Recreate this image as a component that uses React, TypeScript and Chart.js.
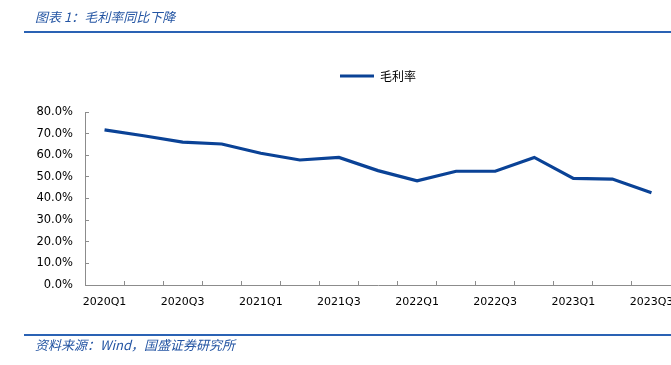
import React, { useEffect, useRef } from 'react';
import { Chart, registerables } from 'chart.js';

Chart.register(...registerables);

const categories = [
  '2020Q1', '2020Q2', '2020Q3', '2020Q4',
  '2021Q1', '2021Q2', '2021Q3', '2021Q4',
  '2022Q1', '2022Q2', '2022Q3', '2022Q4',
  '2023Q1', '2023Q2', '2023Q3',
];
const grossMargin = [71.7, 69.0, 66.1, 65.2, 60.9, 57.8, 59.0, 52.9, 48.2, 52.6, 52.6, 59.0, 49.3, 49.0, 42.7];
const seriesName = '毛利率';
const yMin = 0;
const yMax = 80;
const yStep = 10;
const titleText = '图表 1：毛利率同比下降';
const sourceText = '资料来源：Wind，国盛证券研究所';

const LINE_COLOR = '#0A4296';
const RULE_COLOR = '#2A62B4';
const TEXT_BLUE = '#2455A3';
const AXIS_COLOR = '#8c8c8c';

export default function App() {
  const ref = useRef<HTMLCanvasElement | null>(null);

  useEffect(() => {
    if (!ref.current) return;
    const chart = new Chart(ref.current, {
      type: 'line',
      data: {
        labels: categories,
        datasets: [
          {
            label: seriesName,
            data: grossMargin,
            borderColor: LINE_COLOR,
            backgroundColor: LINE_COLOR,
            borderWidth: 3.2,
            pointRadius: 0,
            pointHoverRadius: 0,
            tension: 0,
            fill: false,
          },
        ],
      },
      options: {
        responsive: false,
        animation: false,
        layout: { padding: { top: 60, left: 0, right: 0, bottom: 0 } },
        plugins: {
          tooltip: { enabled: false },
          legend: {
            display: true,
            position: 'top',
            fullSize: false,
            labels: {
              usePointStyle: true,
              pointStyle: 'line',
              pointStyleWidth: 34,
              boxHeight: 12,
              padding: 10,
              color: '#000',
              font: { family: "'Noto Sans CJK SC', sans-serif", size: 12 },
            },
          },
        },
        scales: {
          x: {
            type: 'category',
            offset: true,
            grid: {
              display: true,
              offset: true,
              drawOnChartArea: false,
              drawTicks: true,
              tickLength: -4,
              color: AXIS_COLOR,
            },
            border: { display: true, color: AXIS_COLOR, width: 1 },
            ticks: {
              autoSkip: false,
              maxRotation: 0,
              minRotation: 0,
              padding: 15,
              color: '#000',
              font: { family: "'DejaVu Sans', sans-serif", size: 11 },
              callback: (_v: any, i: number) => (i % 2 === 0 ? categories[i] : ''),
            },
            afterFit: (s: any) => {
              s.height = 80;
              s.paddingLeft = 0;
              s.paddingRight = 0;
            },
          },
          xGap: {
            type: 'category',
            position: 'top',
            display: true,
            grid: { display: false, drawTicks: false },
            border: { display: false },
            ticks: { display: false },
            afterFit: (s: any) => {
              s.height = 20;
              s.paddingLeft = 0;
              s.paddingRight = 0;
            },
          },
          y: {
            min: yMin,
            max: yMax,
            grid: {
              display: true,
              drawOnChartArea: false,
              drawTicks: true,
              tickLength: -4,
              color: AXIS_COLOR,
            },
            border: { display: true, color: AXIS_COLOR, width: 1 },
            ticks: {
              stepSize: yStep,
              padding: 16,
              color: '#000',
              font: { family: "'DejaVu Sans', sans-serif", size: 11.5 },
              callback: (v: any) => Number(v).toFixed(1) + '%',
            },
            afterFit: (s: any) => {
              s.width = 85;
              s.paddingTop = 0;
              s.paddingBottom = 0;
            },
          },
        },
      },
    });
    return () => chart.destroy();
  }, []);

  const cjk = "'Noto Sans CJK SC', sans-serif";

  return (
    <div style={{ position: 'absolute', left: 0, top: 0, width: 671, height: 365, background: '#fff', overflow: 'hidden' }}>
      <canvas ref={ref} width={671} height={365} style={{ position: 'absolute', left: 0, top: 0, width: 671, height: 365 }} />
      <div
        style={{
          position: 'absolute', left: 35, top: 8, height: 18, lineHeight: '18px',
          fontFamily: cjk, fontStyle: 'italic', fontSize: 13, color: TEXT_BLUE, whiteSpace: 'nowrap',
        }}
      >
        {titleText}
      </div>
      <div style={{ position: 'absolute', left: 24, top: 31, width: 647, height: 2, background: RULE_COLOR }} />
      <div style={{ position: 'absolute', left: 24, top: 334, width: 647, height: 2, background: RULE_COLOR }} />
      <div
        style={{
          position: 'absolute', left: 35, top: 336, height: 18, lineHeight: '18px',
          fontFamily: cjk, fontStyle: 'italic', fontSize: 13, color: TEXT_BLUE, whiteSpace: 'nowrap',
        }}
      >
        {sourceText}
      </div>
    </div>
  );
}
